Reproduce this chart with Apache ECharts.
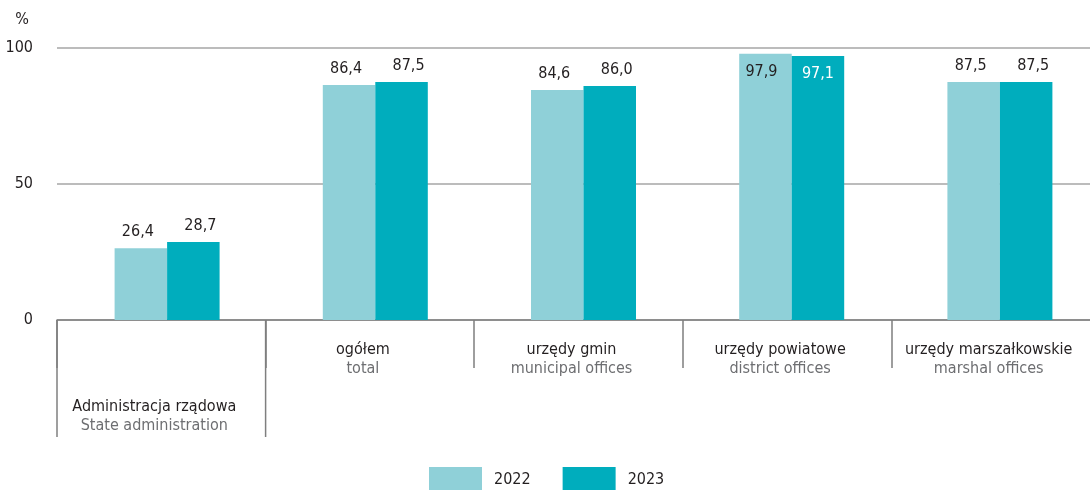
<!DOCTYPE html>
<html>
<head>
<meta charset="utf-8">
<script src="https://cdn.jsdelivr.net/npm/echarts@6/dist/echarts.min.js"></script>
<style>
html,body{margin:0;padding:0;background:#fff;overflow:hidden;width:1090px;height:490px;}
#chart{width:1104px;height:490px;}
</style>
</head>
<body>
<div id="chart"></div>
<script>
const groupsPl = ['Administracja rządowa', 'Administracja samorządowa'];
const groupsEn = ['State administration', 'Self-government'];
const categoriesPl = ['', 'ogółem', 'urzędy gmin', 'urzędy powiatowe', 'urzędy marszałkowskie'];
const categoriesEn = ['', 'total', 'municipal offices', 'district offices', 'marshal offices'];
const seriesNames = ['2022', '2023'];
const values2022 = [26.4, 86.4, 84.6, 97.9, 87.5];
const values2023 = [28.7, 87.5, 86.0, 97.1, 87.5];
const yTicks = [0, 50, 100];

const FONT = "'Liberation Sans Narrow', 'DejaVu Sans Condensed', sans-serif";
const DARK = '#231f20';
const GREY = '#6d6e71';
const C1 = '#8fd0d8';
const C2 = '#00adbd';

const chart = echarts.init(document.getElementById('chart'), null, {renderer: 'canvas'});

function fmt(v) { return v.toFixed(1).replace('.', ','); }

function barData(values, insideColor, insideOffset) {
  return values.map(v => v > 95 ? {
    value: v,
    label: {position: 'insideTop', distance: 10, color: insideColor, offset: insideOffset}
  } : v);
}

const option = {
  animation: false,
  textStyle: {fontFamily: FONT},
  grid: [
    {left: 57, top: 48, right: 4, height: 272, containLabel: false},
    {left: 63, top: 48, right: 0, height: 272, containLabel: false}
  ],
  legend: {
    bottom: -3, left: 429, padding: 0,
    itemWidth: 53, itemHeight: 26, itemGap: 32,
    icon: 'rect',
    textStyle: {fontFamily: FONT, fontSize: 16, color: DARK, padding: [0, 0, 0, 7]},
    data: seriesNames
  },
  xAxis: [
    {
      type: 'category', gridIndex: 0,
      data: categoriesPl,
      axisLine: {show: true, lineStyle: {color: '#7f7f7f', width: 1.5}},
      axisTick: {show: true, length: 48, interval: 0, lineStyle: {color: '#7f7f7f', width: 1.5}},
      axisLabel: {
        interval: 0, margin: 20,
        fontFamily: FONT, fontSize: 16, lineHeight: 19,
        padding: [0, 14, 0, 0],
        formatter: function (val, idx) {
          if (idx === 0) {
            return '\n\n\n{a|' + groupsPl[0] + '}\n{b|' + groupsEn[0] + '}';
          }
          return '{a|' + val + '}\n{b|' + categoriesEn[idx] + '}';
        },
        rich: {
          a: {fontFamily: FONT, fontSize: 16, lineHeight: 19, color: DARK},
          b: {fontFamily: FONT, fontSize: 16, lineHeight: 19, color: GREY}
        }
      }
    },
    {
      type: 'category', gridIndex: 1,
      data: categoriesPl, show: false
    }
  ],
  yAxis: [
    {
      type: 'value', gridIndex: 0, min: 0, max: 100, interval: 50,
      name: '%', nameLocation: 'end', nameGap: 20,
      nameTextStyle: {fontFamily: FONT, fontSize: 16, color: DARK, align: 'right', padding: [0, 28, 0, 0]},
      axisLine: {show: false}, axisTick: {show: false},
      axisLabel: {margin: 24, fontFamily: FONT, fontSize: 16, color: DARK,
        formatter: v => yTicks.includes(v) ? String(v) : ''},
      splitLine: {show: true, lineStyle: {color: '#a6a6a6', width: 1.5}}
    },
    {
      type: 'value', gridIndex: 1, min: 0, max: 100, show: false,
      splitLine: {show: false}
    }
  ],
  series: [
    {
      name: seriesNames[0], type: 'bar', xAxisIndex: 1, yAxisIndex: 1,
      barWidth: 52.5, barGap: '0%',
      itemStyle: {color: C1},
      label: {show: true, position: 'top', distance: 8, offset: [-3, 0],
        fontFamily: FONT, fontSize: 16, color: DARK, formatter: p => fmt(p.value)},
      data: barData(values2022, DARK, [-4, 0])
    },
    {
      name: seriesNames[1], type: 'bar', xAxisIndex: 1, yAxisIndex: 1,
      barWidth: 52.5, barGap: '0%',
      itemStyle: {color: C2},
      label: {show: true, position: 'top', distance: 8, offset: [7, 0],
        fontFamily: FONT, fontSize: 16, color: DARK, formatter: p => fmt(p.value)},
      data: barData(values2023, '#ffffff', [0, 0])
    }
  ]
};

chart.setOption(option);

// Extra decorations: long dividers under the first group and the second-level group label
const c0 = chart.convertToPixel({xAxisIndex: 0}, categoriesPl[0]);
const c1 = chart.convertToPixel({xAxisIndex: 0}, categoriesPl[1]);
const c4 = chart.convertToPixel({xAxisIndex: 0}, categoriesPl[4]);
const band = c1 - c0;
const y0 = chart.convertToPixel({yAxisIndex: 0}, 0);
const b0 = c0 - band / 2;
const b1 = c0 + band / 2;
const lineStyle = {stroke: '#7f7f7f', lineWidth: 1.5};
const groupCenter = (c1 + c4) / 2 - 2;

chart.setOption({
  graphic: [
    {type: 'line', shape: {x1: b0, y1: y0, x2: b0, y2: y0 + 117}, style: lineStyle, silent: true},
    {type: 'line', shape: {x1: b1, y1: y0, x2: b1, y2: y0 + 117}, style: lineStyle, silent: true},
    {
      type: 'text', left: groupCenter - 1000, top: y0 + 82, silent: true,
      style: {
        x: 0, y: 0,
        text: '{a|' + groupsPl[1] + '}\n{b|' + groupsEn[1] + '}',
        align: 'center', verticalAlign: 'top',
        width: 2000,
        rich: {
          a: {fontFamily: FONT, fontSize: 16, lineHeight: 19, color: DARK, align: 'center'},
          b: {fontFamily: FONT, fontSize: 16, lineHeight: 19, color: GREY, align: 'center'}
        }
      }
    }
  ]
});
</script>
</body>
</html>
